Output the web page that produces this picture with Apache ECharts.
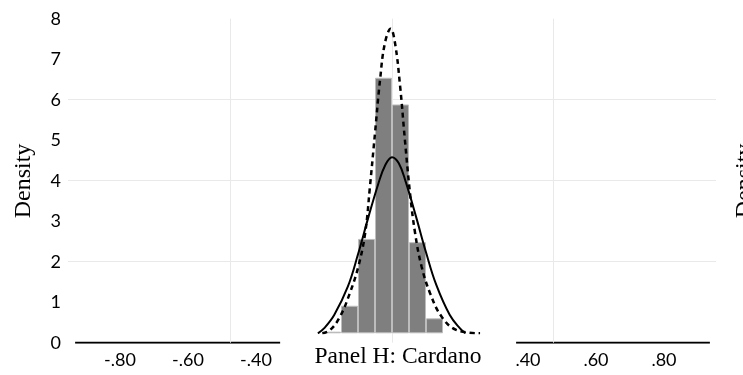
<!DOCTYPE html>
<html>
<head>
<meta charset="utf-8">
<script src="https://cdn.jsdelivr.net/npm/echarts@6/dist/echarts.min.js"></script>
<style>html,body{margin:0;padding:0;background:#fff;}#c{width:743px;height:375px;}</style>
</head>
<body>
<div id="c"></div>
<script>
// ---- data ----
const yTickLabels = ['0','1','2','3','4','5','6','7','8'];
const xTickValues = [-0.8, -0.6, -0.4, 0.4, 0.6, 0.8];
const xTickLabels = ['-.80', '-.60', '-.40', '.40', '.60', '.80'];
const hGridValues = [2, 4, 6];
const vGridValues = [-0.475, 0, 0.475];
const gridXExtent = [-0.953, 0.953];
const gridYExtent = [0, 8];

// histogram bins (centre, density)
const binCenters = [-0.175, -0.125, -0.075, -0.025, 0.025, 0.075, 0.125];
const binDensity = [0.04, 0.68, 2.33, 6.31, 5.65, 2.25, 0.37];

// fitted normal (solid)
const normalX = [-0.218, -0.2, -0.17, -0.13, -0.1, -0.07, -0.04, -0.02, 0, 0.02, 0.04, 0.07, 0.1, 0.13, 0.17, 0.2, 0.216];
const normalY = [0, 0.12, 0.45, 1.15, 1.95, 2.85, 3.7, 4.15, 4.35, 4.2, 3.75, 2.9, 2.0, 1.2, 0.45, 0.12, 0];

// kernel density (dashed)
const kdeX = [-0.205, -0.182, -0.153, -0.124, -0.099, -0.079, -0.065, -0.05, -0.035, -0.021, -0.004, 0.009, 0.024, 0.038, 0.053, 0.068, 0.087, 0.112, 0.146, 0.19, 0.259];
const kdeY = [0, 0.08, 0.41, 0.99, 1.65, 2.47, 3.61, 4.94, 6.27, 7.16, 7.52, 7.16, 6.09, 4.77, 3.46, 2.47, 1.65, 0.99, 0.41, 0.08, 0];

// baseline tails (densities ~0 outside the inset)
const tailLeftX = [-0.932, -0.329];
const tailRightX = [0.365, 0.935];

const zip = (xs, ys) => xs.map((x, i) => [x, ys[i]]);

const chart = echarts.init(document.getElementById('c'), null, {renderer: 'canvas'});

const gridLines = [];
hGridValues.forEach(v => gridLines.push([{coord: [gridXExtent[0], v]}, {coord: [gridXExtent[1], v]}]));
vGridValues.forEach(v => gridLines.push([{coord: [v, gridYExtent[0]]}, {coord: [v, gridYExtent[1]]}]));

const xFmt = v => {
  for (let i = 0; i < xTickValues.length; i++) {
    if (Math.abs(v - xTickValues[i]) < 1e-6) return xTickLabels[i];
  }
  return '';
};

chart.setOption({
  animation: false,
  backgroundColor: '#ffffff',
  grid: [
    {left: 52, right: 11, top: 18.7, bottom: 32.3},
    {left: 52, right: 11, top: 9.3, bottom: 41.7}
  ],
  xAxis: [
    {
      gridIndex: 0, type: 'value', min: -1, max: 1, interval: 0.2,
      axisLine: {show: false}, axisTick: {show: false}, splitLine: {show: false},
      axisLabel: {
        show: true, margin: 8, formatter: xFmt, showMinLabel: true, showMaxLabel: true,
        color: '#000', fontFamily: 'Lato', fontSize: 18
      }
    },
    {
      gridIndex: 1, type: 'value', min: -1, max: 1,
      show: false
    }
  ],
  yAxis: [
    {
      gridIndex: 0, type: 'value', min: 0, max: 8, interval: 1, offset: -17,
      axisLine: {show: false}, axisTick: {show: false}, splitLine: {show: false},
      axisLabel: {
        margin: 8, color: '#000', fontFamily: 'Lato', fontSize: 18,
        formatter: (v) => yTickLabels[Math.round(v)]
      }
    },
    {
      gridIndex: 1, type: 'value', min: 0, max: 8, show: false
    }
  ],
  series: [
    {
      type: 'line', xAxisIndex: 0, yAxisIndex: 0, z: 1,
      data: zip(tailLeftX, [0, 0]), symbol: 'none',
      lineStyle: {color: '#000', width: 2},
      markLine: {
        silent: true, symbol: 'none', label: {show: false},
        lineStyle: {color: '#e9e9e9', width: 1, type: 'solid'},
        data: gridLines
      }
    },
    {
      type: 'line', xAxisIndex: 0, yAxisIndex: 0, z: 1,
      data: zip(tailRightX, [0, 0]), symbol: 'none',
      lineStyle: {color: '#000', width: 2}
    },
    {
      type: 'bar', xAxisIndex: 1, yAxisIndex: 1, z: 5,
      data: zip(binCenters, binDensity),
      barWidth: 17,
      itemStyle: {color: '#7f7f7f', borderColor: '#bdbdbd', borderWidth: 1}
    },
    {
      type: 'line', xAxisIndex: 1, yAxisIndex: 1, z: 6,
      data: zip(normalX, normalY), symbol: 'none', smooth: 0.4,
      lineStyle: {color: '#000', width: 2}
    },
    {
      type: 'line', xAxisIndex: 1, yAxisIndex: 1, z: 6,
      data: zip(kdeX, kdeY), symbol: 'none', smooth: 0.4,
      lineStyle: {color: '#000', width: 2.5, type: [5, 4]}
    }
  ],
  graphic: [
    {
      type: 'text', x: 24, y: 181, rotation: Math.PI / 2,
      style: {text: 'Density', font: '24px "Liberation Serif"', fill: '#000', align: 'center', verticalAlign: 'middle'}
    },
    {
      type: 'text', x: 745, y: 181, rotation: Math.PI / 2,
      style: {text: 'Density', font: '24px "Liberation Serif"', fill: '#000', align: 'center', verticalAlign: 'middle'}
    },
    {
      type: 'text', x: 398, y: 357,
      style: {text: 'Panel H: Cardano', font: '23.5px "Liberation Serif"', fill: '#000', align: 'center', verticalAlign: 'middle'}
    }
  ]
});
</script>
</body>
</html>
